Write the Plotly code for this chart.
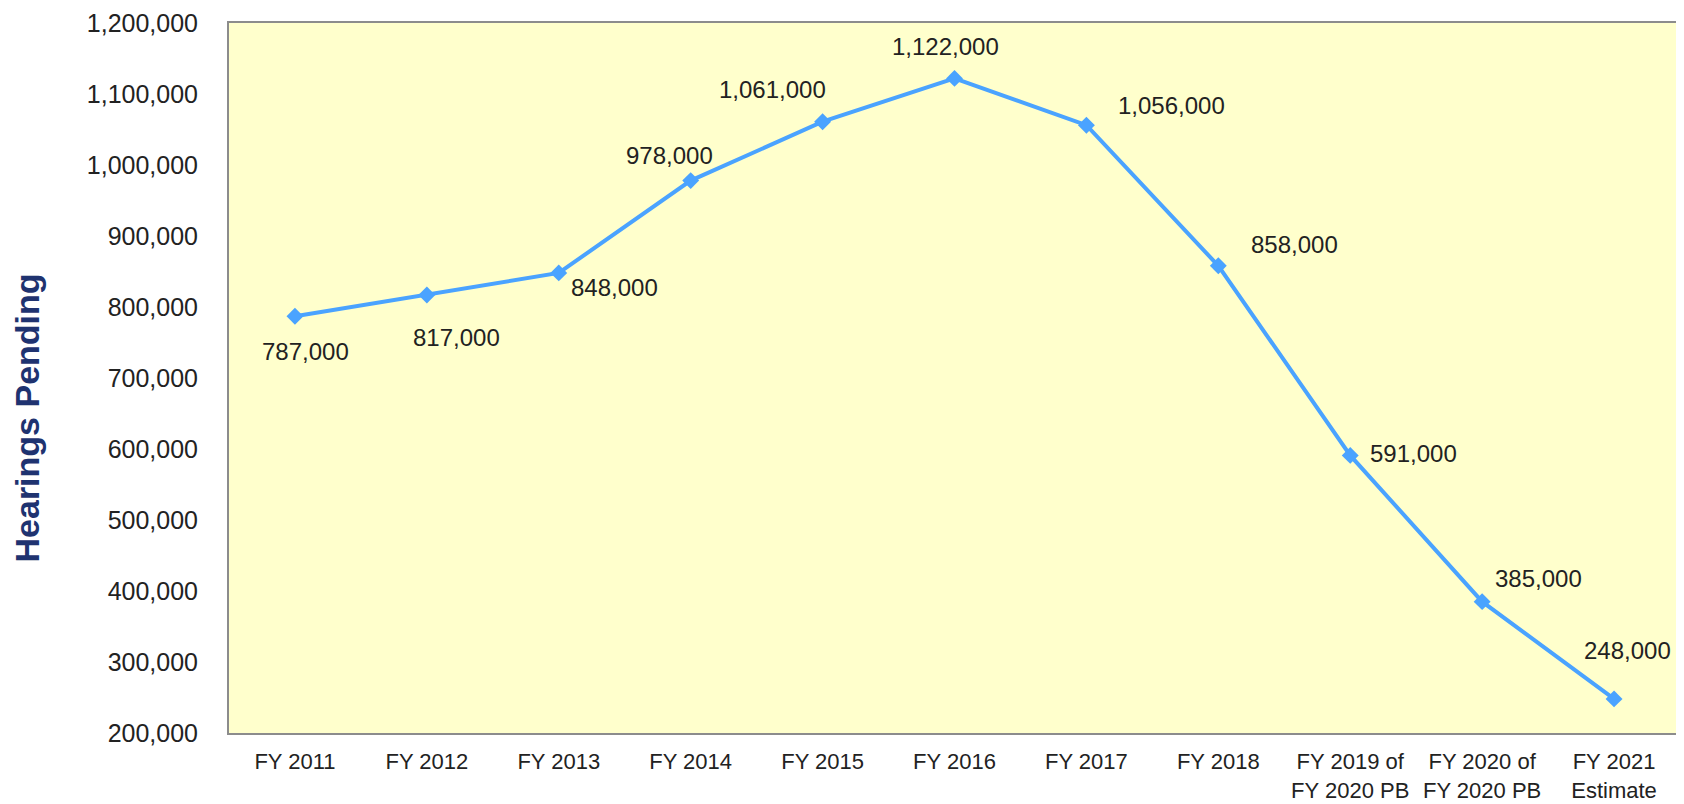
import plotly.graph_objects as go

categories = ["FY 2011", "FY 2012", "FY 2013", "FY 2014", "FY 2015", "FY 2016",
              "FY 2017", "FY 2018", "FY 2019 of<br>FY 2020 PB", "FY 2020 of<br>FY 2020 PB",
              "FY 2021<br>Estimate"]
hearings_pending = [787000, 817000, 848000, 978000, 1061000, 1122000,
                    1056000, 858000, 591000, 385000, 248000]
y_ticks = [200000, 300000, 400000, 500000, 600000, 700000, 800000, 900000,
           1000000, 1100000, 1200000]

# label offsets (pixels) relative to each point: (xshift, yshift)
label_offsets = [(11, -35), (30, -43), (56, -15), (-21, 25), (-50, 32), (-9, 32),
                 (85, 20), (76, 21), (63, 2), (56, 23), (13, 48)]

line_color = "#4aa3ff"

fig = go.Figure()
fig.add_trace(go.Scatter(
    x=categories, y=hearings_pending, mode="lines+markers",
    line=dict(color=line_color, width=4),
    marker=dict(symbol="diamond", size=13, color=line_color),
    hoverinfo="x+y", showlegend=False,
))

for cat, val, (dx, dy) in zip(categories, hearings_pending, label_offsets):
    fig.add_annotation(x=cat, y=val, text=f"{val:,}", showarrow=False,
                       xshift=dx, yshift=dy,
                       font=dict(family="Liberation Sans, Arial", size=24, color="#222222"))

fig.add_annotation(xref="paper", yref="paper", x=-0.1392, y=0.443,
                   xanchor="center", yanchor="middle",
                   text="<b>Hearings Pending</b>", textangle=-90, showarrow=False,
                   font=dict(family="Liberation Sans, Arial", size=34, color="#1f3370"))

fig.update_layout(
    width=1676, height=796,
    margin=dict(l=221, r=4, t=15, b=71),
    paper_bgcolor="white", plot_bgcolor="#ffffcc",
    font=dict(family="Liberation Sans, Arial", color="#222222"),
)
fig.update_xaxes(
    type="category", range=[-0.5, len(categories) - 0.5], automargin=False,
    showgrid=False, zeroline=False,
    showline=True, linecolor="#8c8c8c", linewidth=2, mirror=True,
    ticks="", tickfont=dict(size=22, color="#222222"), ticklabelstandoff=8,
)
fig.update_yaxes(
    range=[200000, 1200000], tickvals=y_ticks, tickformat=",d", automargin=False,
    showgrid=False, zeroline=False,
    showline=True, linecolor="#8c8c8c", linewidth=2, mirror=True,
    ticks="", tickfont=dict(size=25, color="#222222"), ticklabelstandoff=24,
)

fig.write_html("out.html")
